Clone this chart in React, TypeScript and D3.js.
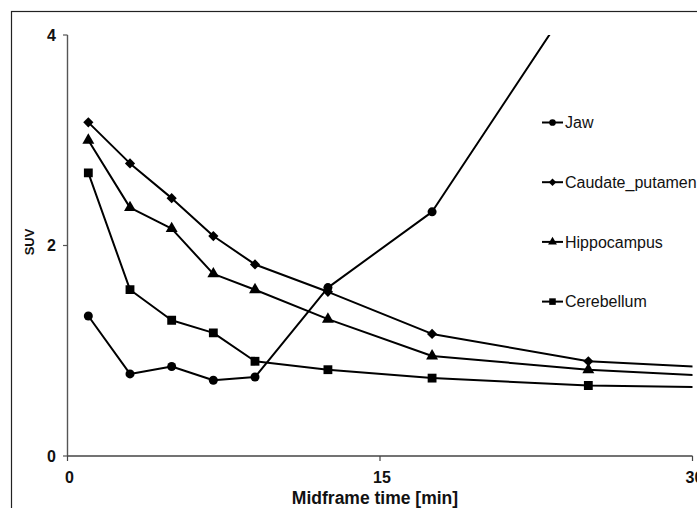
import * as d3 from "d3";

// midframe times in minutes (last one lies past the axis end, clipped)
const times = [1, 3, 5, 7, 9, 12.5, 17.5, 25, 35];

const jaw = [1.33, 0.78, 0.85, 0.72, 0.75, 1.6, 2.32, 4.56];
const caudatePutamen = [3.17, 2.78, 2.45, 2.09, 1.82, 1.56, 1.16, 0.9, 0.8];
const hippocampus = [3.0, 2.36, 2.16, 1.73, 1.58, 1.3, 0.95, 0.82, 0.72];
const cerebellum = [2.69, 1.58, 1.29, 1.17, 0.9, 0.82, 0.74, 0.67, 0.64];

const seriesNames = ["Jaw", "Caudate_putamen", "Hippocampus", "Cerebellum"];
const xTicks = [0, 15, 30];
const yTicks = [0, 2, 4];

const W = 697;
const H = 508;
const plot = { left: 67.5, right: 692.5, top: 35, bottom: 456 };

const x = d3.scaleLinear().domain([0, 30]).range([plot.left, plot.right]);
const y = d3.scaleLinear().domain([0, 4]).range([plot.bottom, plot.top]);

const markerFor = (name: string, k = 1) => {
  if (name === "Jaw") return { d: d3.symbol(d3.symbolCircle, 64 * k)(), rot: 0 };
  if (name === "Caudate_putamen") return { d: d3.symbol(d3.symbolSquare, 52 * k)(), rot: 45 };
  if (name === "Hippocampus") return { d: d3.symbol(d3.symbolTriangle, 62 * k)(), rot: 0 };
  return { d: d3.symbol(d3.symbolSquare, 78 * k)(), rot: 0 };
};

const App = () => {
  const series = [jaw, caudatePutamen, hippocampus, cerebellum].map((vals, i) => ({
    name: seriesNames[i],
    points: vals.map((v, j) => ({ t: times[j], v })),
  }));

  const line = d3
    .line<{ t: number; v: number }>()
    .x((d) => x(d.t))
    .y((d) => y(d.v));

  const font = "'Liberation Sans', Arial, Helvetica, sans-serif";

  return (
    <svg
      width={W}
      height={H}
      style={{ position: "fixed", left: 0, top: 0, background: "#fff" }}
      fontFamily={font}
    >
      <defs>
        <clipPath id="plotClip">
          <rect x={plot.left} y={plot.top} width={plot.right - plot.left} height={plot.bottom - plot.top} />
        </clipPath>
      </defs>

      {/* outer frame, only top and left edges fall inside the picture */}
      <rect x={11.5} y={11.5} width={720} height={540} fill="none" stroke="#222" strokeWidth={1.2} />

      {/* axes */}
      <line x1={plot.left} x2={plot.left} y1={y(4)} y2={y(0)} stroke="#555" strokeWidth={1.4} />
      <line x1={plot.left} x2={plot.right} y1={y(0)} y2={y(0)} stroke="#444" strokeWidth={1.4} />
      {yTicks.map((t) => (
        <g key={"y" + t}>
          <line x1={plot.left - 4.5} x2={plot.left} y1={y(t)} y2={y(t)} stroke="#555" strokeWidth={1.2} />
          <text x={56} y={y(t)} dy="0.36em" textAnchor="end" fontSize={16} fontWeight="bold" fill="#111">
            {t}
          </text>
        </g>
      ))}
      {xTicks.map((t) => (
        <g key={"x" + t}>
          <line x1={x(t)} x2={x(t)} y1={y(0)} y2={y(0) + 5} stroke="#444" strokeWidth={1.2} />
          <text x={x(t) + 2} y={483} textAnchor="middle" fontSize={16} fontWeight="bold" fill="#111">
            {t}
          </text>
        </g>
      ))}

      <text
        transform="translate(33.5,242) rotate(-90)"
        textAnchor="middle"
        fontSize={13}
        fontWeight="bold"
        fill="#111"
      >
        SUV
      </text>
      <text x={375} y={504} textAnchor="middle" fontSize={17.5} fontWeight="bold" fill="#111">
        Midframe time [min]
      </text>

      {/* series */}
      <g clipPath="url(#plotClip)">
        {series.map((s) => (
          <path key={s.name} d={line(s.points) || ""} fill="none" stroke="#000" strokeWidth={2} strokeLinejoin="round" />
        ))}
        {series.map((s) => {
          const m = markerFor(s.name);
          return s.points.map((p, j) => (
            <path
              key={s.name + j}
              d={m.d || ""}
              transform={`translate(${x(p.t)},${y(p.v)}) rotate(${m.rot})`}
              fill="#000"
            />
          ));
        })}
      </g>

      {/* legend */}
      {seriesNames.map((name, i) => {
        const ly = 122.5 + i * 59.7;
        const m = markerFor(name, 0.55);
        return (
          <g key={"leg" + name}>
            <line x1={542} x2={563} y1={ly} y2={ly} stroke="#000" strokeWidth={2} />
            <path d={m.d || ""} transform={`translate(552.5,${ly}) rotate(${m.rot})`} fill="#000" />
            <text x={565} y={ly} dy="0.36em" fontSize={16} fill="#111">
              {name}
            </text>
          </g>
        );
      })}
    </svg>
  );
};

export default App;
